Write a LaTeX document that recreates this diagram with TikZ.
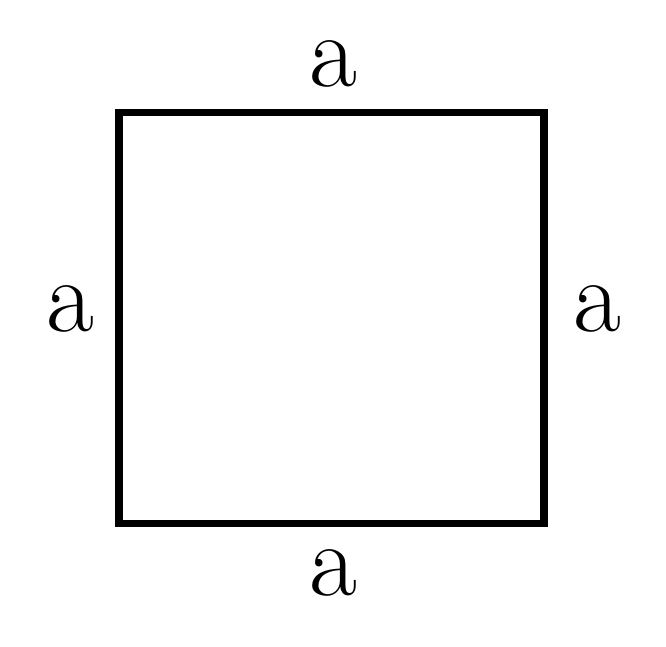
\documentclass[tikz,border=0pt]{standalone}
\usetikzlibrary{positioning}

\begin{document}
\begin{tikzpicture}[
    x=1pt, y=-1pt,
    side/.style={draw, line width=7.5pt, minimum width=425pt, minimum height=411pt, inner sep=0pt},
    lbl/.style={font=\fontsize{104}{104}\selectfont, inner sep=0pt}
]
\useasboundingbox (0,0) rectangle (666,646);

% Square
\node[side] (sq) at (331.5,318) {};

% Side labels
\node[lbl] (top) at (333,64) {a};
\node[lbl] (bottom) at (333,573) {a};
\node[lbl] (left) at (70,309) {a};
\node[lbl] (right) at (597,309) {a};

\end{tikzpicture}
\end{document}
